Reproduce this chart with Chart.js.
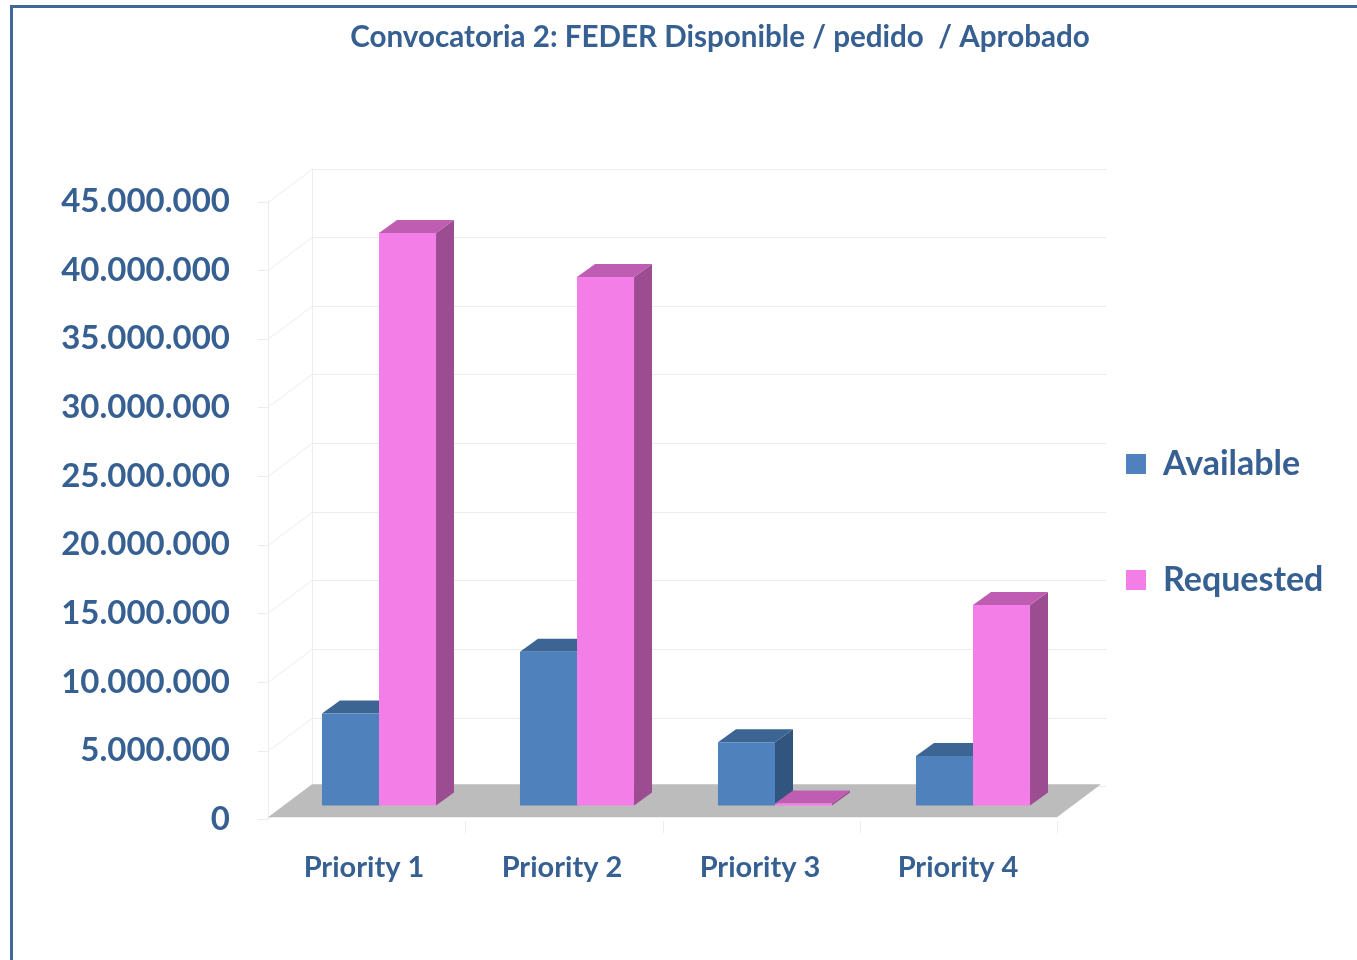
<!DOCTYPE html>
<html>
<head>
<meta charset="utf-8">
<script src="https://cdn.jsdelivr.net/npm/chart.js@4.4.1/dist/chart.umd.min.js"></script>
<style>
  html, body { margin: 0; overflow: hidden; background: #fff; }
  canvas { position: absolute; left: 0; top: 0; }
  #frame { position: absolute; left: 10px; top: 5px; width: 2000px; height: 2000px;
           border-left: 3px solid #3f6797; border-top: 3px solid #3f6797; pointer-events: none; }
</style>
</head>
<body>
<canvas id="fundsChart" width="1440" height="960"></canvas>
<div id="frame"></div>
<script>
// chart data
var categories = ['Priority 1', 'Priority 2', 'Priority 3', 'Priority 4'];
var available = [6700000, 11200000, 4600000, 3600000];
var requested = [41700000, 38500000, 150000, 14600000];
var seriesNames = ['Available', 'Requested'];

var textColor = '#376092';
// front, top and side colours of the 3d columns
var faces = [
    { front: '#4f81bd', top: '#3c6593', side: '#32557f' },
    { front: '#f47ee8', top: '#bf5db3', side: '#9c4d91' }
];
var depth = { x: 18, y: -13 };   // column depth
var wall = { x: 44, y: -33 };    // plot depth

function quad(ctx, pts) {
    ctx.beginPath();
    ctx.moveTo(pts[0], pts[1]);
    for (var i = 2; i < pts.length; i += 2) ctx.lineTo(pts[i], pts[i + 1]);
    ctx.closePath();
    ctx.fill();
}

// draws the floor, the walls and the top / side faces of the columns
var box3d = {
    id: 'box3d',
    beforeDatasetsDraw: function(chart) {
        var ctx = chart.ctx, a = chart.chartArea, y = chart.scales.y;
        var x0 = a.left - 12, x1 = a.right - 15, y0 = y.getPixelForValue(0) - 2;
        ctx.save();
        ctx.strokeStyle = '#ececec';
        ctx.lineWidth = 1;
        y.ticks.forEach(function(t) {
            var py = Math.round(y.getPixelForValue(t.value)) + 0.5;
            ctx.beginPath();
            ctx.moveTo(x0 - 10, py);
            ctx.lineTo(x0, py);
            ctx.lineTo(x0 + wall.x, py + wall.y);
            ctx.lineTo(x1 + wall.x + 5, py + wall.y);
            ctx.stroke();
        });
        ctx.beginPath();
        ctx.moveTo(x0 + 0.5, y.getPixelForValue(0));
        ctx.lineTo(x0 + 0.5, y.top);
        ctx.moveTo(x0 + wall.x + 0.5, y0 + wall.y);
        ctx.lineTo(x0 + wall.x + 0.5, y.top + wall.y);
        for (var k = 1; k <= categories.length; k++) {
            var px = Math.round(x0 + (x1 - x0) * k / categories.length) + 0.5;
            ctx.moveTo(px, y0 + 4);
            ctx.lineTo(px, y0 + 16);
        }
        ctx.stroke();

        ctx.fillStyle = '#bcbcbc';
        quad(ctx, [x0, y0, x0 + wall.x, y0 + wall.y, x1 + wall.x, y0 + wall.y, x1, y0]);

        for (var i = 0; i < categories.length; i++) {
            chart.data.datasets.forEach(function(ds, d) {
                var b = chart.getDatasetMeta(d).data[i].getProps(['x', 'y', 'base', 'width'], true);
                var l = b.x - b.width / 2, r = b.x + b.width / 2;
                ctx.fillStyle = faces[d].side;
                quad(ctx, [r, b.y, r + depth.x, b.y + depth.y, r + depth.x, b.base + depth.y, r, b.base]);
                ctx.fillStyle = faces[d].top;
                quad(ctx, [l, b.y, l + depth.x, b.y + depth.y, r + depth.x, b.y + depth.y, r, b.y]);
            });
        }
        ctx.restore();
    }
};

// title centred on the whole frame, legend pulled in next to the plot
var placeBoxes = {
    id: 'placeBoxes',
    afterLayout: function(chart) {
        var tb = chart.titleBlock, lg = chart.legend;
        tb.left = 0;
        tb.right = chart.width;
        lg.left -= 28;
        lg.right = chart.width;
        lg.top += 68;
        lg.bottom += 68;
    }
};

var ctx = document.getElementById('fundsChart').getContext('2d');

new Chart(ctx, {
    type: 'bar',
    data: {
        labels: categories,
        datasets: [{
            label: seriesNames[0],
            data: available,
            backgroundColor: faces[0].front,
            yAxisID: 'bars'
        }, {
            label: seriesNames[1],
            data: requested,
            backgroundColor: faces[1].front,
            yAxisID: 'bars'
        }]
    },
    options: {
        responsive: false,
        animation: false,
        layout: { padding: { left: 60, right: 128, top: 0, bottom: 52 } },
        datasets: { bar: { barPercentage: 1, categoryPercentage: 0.576, borderWidth: 0 } },
        plugins: {
            title: {
                display: true,
                text: 'Convocatoria 2: FEDER Disponible / pedido  / Aprobado',
                color: textColor,
                font: { family: 'Lato', size: 29.6, weight: 'bold' },
                padding: { top: 20, bottom: 146 }
            },
            legend: {
                position: 'right',
                maxWidth: 240,
                labels: {
                    color: textColor,
                    boxWidth: 20,
                    boxHeight: 20,
                    padding: 82,
                    font: { family: 'Lato', size: 34, weight: 'bold' }
                }
            },
            tooltip: { enabled: false }
        },
        scales: {
            x: {
                grid: { display: false },
                border: { display: false },
                ticks: {
                    color: textColor,
                    labelOffset: -15,
                    padding: 23,
                    font: { family: 'Lato', size: 29, weight: 'bold' }
                }
            },
            y: {
                min: 0,
                max: 45000000,
                afterFit: function(s) { s.width = 220; },
                grid: { display: false, drawTicks: false },
                border: { display: false },
                ticks: {
                    stepSize: 5000000,
                    color: textColor,
                    padding: 50,
                    font: { family: 'Lato', size: 33, weight: 'bold' },
                    callback: function(v) {
                        return String(v).replace(/\B(?=(\d{3})+(?!\d))/g, '.');
                    }
                }
            },
            // same scale, lifted a little: the columns stand back on the floor
            bars: {
                display: false,
                min: -1000000,
                max: 44000000
            }
        }
    },
    plugins: [box3d, placeBoxes]
});
</script>
</body>
</html>
